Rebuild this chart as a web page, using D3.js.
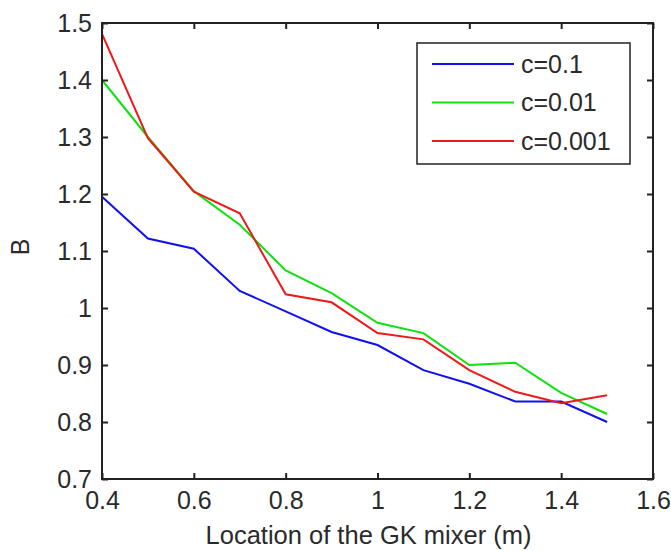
<!DOCTYPE html>
<html>
<head>
<meta charset="utf-8">
<script src="https://cdn.jsdelivr.net/npm/d3@7"></script>
<style>
  body { margin: 0; background: #fff; }
  svg { font-family: "Liberation Sans", Arial, sans-serif; }
</style>
</head>
<body>
<svg id="chart" width="671" height="551"></svg>
<script>
// data
var xs = [0.4, 0.5, 0.6, 0.7, 0.8, 0.9, 1.0, 1.1, 1.2, 1.3, 1.4, 1.5];
var c01   = [1.195, 1.122, 1.104, 1.030, 0.994, 0.958, 0.935, 0.891, 0.867, 0.836, 0.836, 0.800];
var c001  = [1.400, 1.300, 1.205, 1.146, 1.066, 1.026, 0.974, 0.956, 0.900, 0.904, 0.851, 0.814];
var c0001 = [1.481, 1.298, 1.204, 1.166, 1.024, 1.010, 0.956, 0.945, 0.891, 0.853, 0.833, 0.847];
var seriesNames = ["c=0.1", "c=0.01", "c=0.001"];
var seriesColors = ["#1010f0", "#10e010", "#f01818"];
var xTicks = [0.4, 0.6, 0.8, 1.0, 1.2, 1.4, 1.6];
var yTicks = [0.7, 0.8, 0.9, 1.0, 1.1, 1.2, 1.3, 1.4, 1.5];

var svg = d3.select("#chart"),
    margin = {top: 23, right: 18, bottom: 72, left: 102},
    width = +svg.attr("width") - margin.left - margin.right,
    height = +svg.attr("height") - margin.top - margin.bottom;

var x = d3.scaleLinear().domain([0.4, 1.6]).range([0, width]),
    y = d3.scaleLinear().domain([0.7, 1.5]).range([height, 0]);

var g = svg.append("g")
    .attr("transform", "translate(" + margin.left + "," + margin.top + ")");

var fmt = function(d) { return d3.format("")(+d.toFixed(1)); };

// data lines
var line = d3.line()
    .x(function(d) { return x(d[0]); })
    .y(function(d) { return y(d[1]); });

[c01, c001, c0001].forEach(function(vals, i) {
  g.append("path")
      .datum(xs.map(function(v, j) { return [v, vals[j]]; }))
      .attr("fill", "none")
      .attr("stroke", seriesColors[i])
      .attr("stroke-width", 2)
      .attr("d", line);
});

// axes, ticks pointing inward like matlab
g.append("g")
    .attr("transform", "translate(0," + height + ")")
    .call(d3.axisBottom(x).tickValues(xTicks).tickSize(-6).tickPadding(12).tickFormat(fmt))
    .call(function(a) { a.select(".domain").remove(); });
g.append("g")
    .call(d3.axisTop(x).tickValues(xTicks).tickSize(-6).tickFormat(""))
    .call(function(a) { a.select(".domain").remove(); });
g.append("g")
    .call(d3.axisLeft(y).tickValues(yTicks).tickSize(-6).tickPadding(10).tickFormat(fmt))
    .call(function(a) { a.select(".domain").remove(); });
g.append("g")
    .attr("transform", "translate(" + width + ",0)")
    .call(d3.axisRight(y).tickValues(yTicks).tickSize(-6).tickFormat(""))
    .call(function(a) { a.select(".domain").remove(); });

g.selectAll(".tick line").attr("stroke", "#222").attr("stroke-width", 2);
g.selectAll(".tick text")
    .attr("fill", "#2a2a2a")
    .style("font-size", "25px")
    .style("font-family", "Liberation Sans, Arial, sans-serif");

g.append("rect")
    .attr("width", width)
    .attr("height", height)
    .attr("fill", "none")
    .attr("stroke", "#222")
    .attr("stroke-width", 2);

// axis titles
svg.append("text")
    .attr("x", margin.left + width / 2 - 9)
    .attr("y", 544)
    .attr("text-anchor", "middle")
    .attr("fill", "#2a2a2a")
    .style("font-size", "25.5px")
    .text("Location of the GK mixer (m)");

svg.append("text")
    .attr("transform", "translate(29,247) rotate(-90)")
    .attr("text-anchor", "middle")
    .attr("fill", "#2a2a2a")
    .style("font-size", "25px")
    .text("B");

// legend
var legend = svg.append("g").attr("transform", "translate(417,43)");
legend.append("rect")
    .attr("width", 213)
    .attr("height", 121)
    .attr("fill", "#fff")
    .attr("stroke", "#222")
    .attr("stroke-width", 1.5);

var rows = legend.selectAll(".row")
    .data(seriesNames)
  .enter().append("g")
    .attr("transform", function(d, i) { return "translate(0," + (21 + i * 38.5) + ")"; });
rows.append("line")
    .attr("x1", 15).attr("x2", 97)
    .attr("stroke", function(d, i) { return seriesColors[i]; })
    .attr("stroke-width", 2);
rows.append("text")
    .attr("x", 104)
    .attr("dy", "0.35em")
    .attr("fill", "#2a2a2a")
    .style("font-size", "25px")
    .text(function(d) { return d; });
</script>
</body>
</html>
